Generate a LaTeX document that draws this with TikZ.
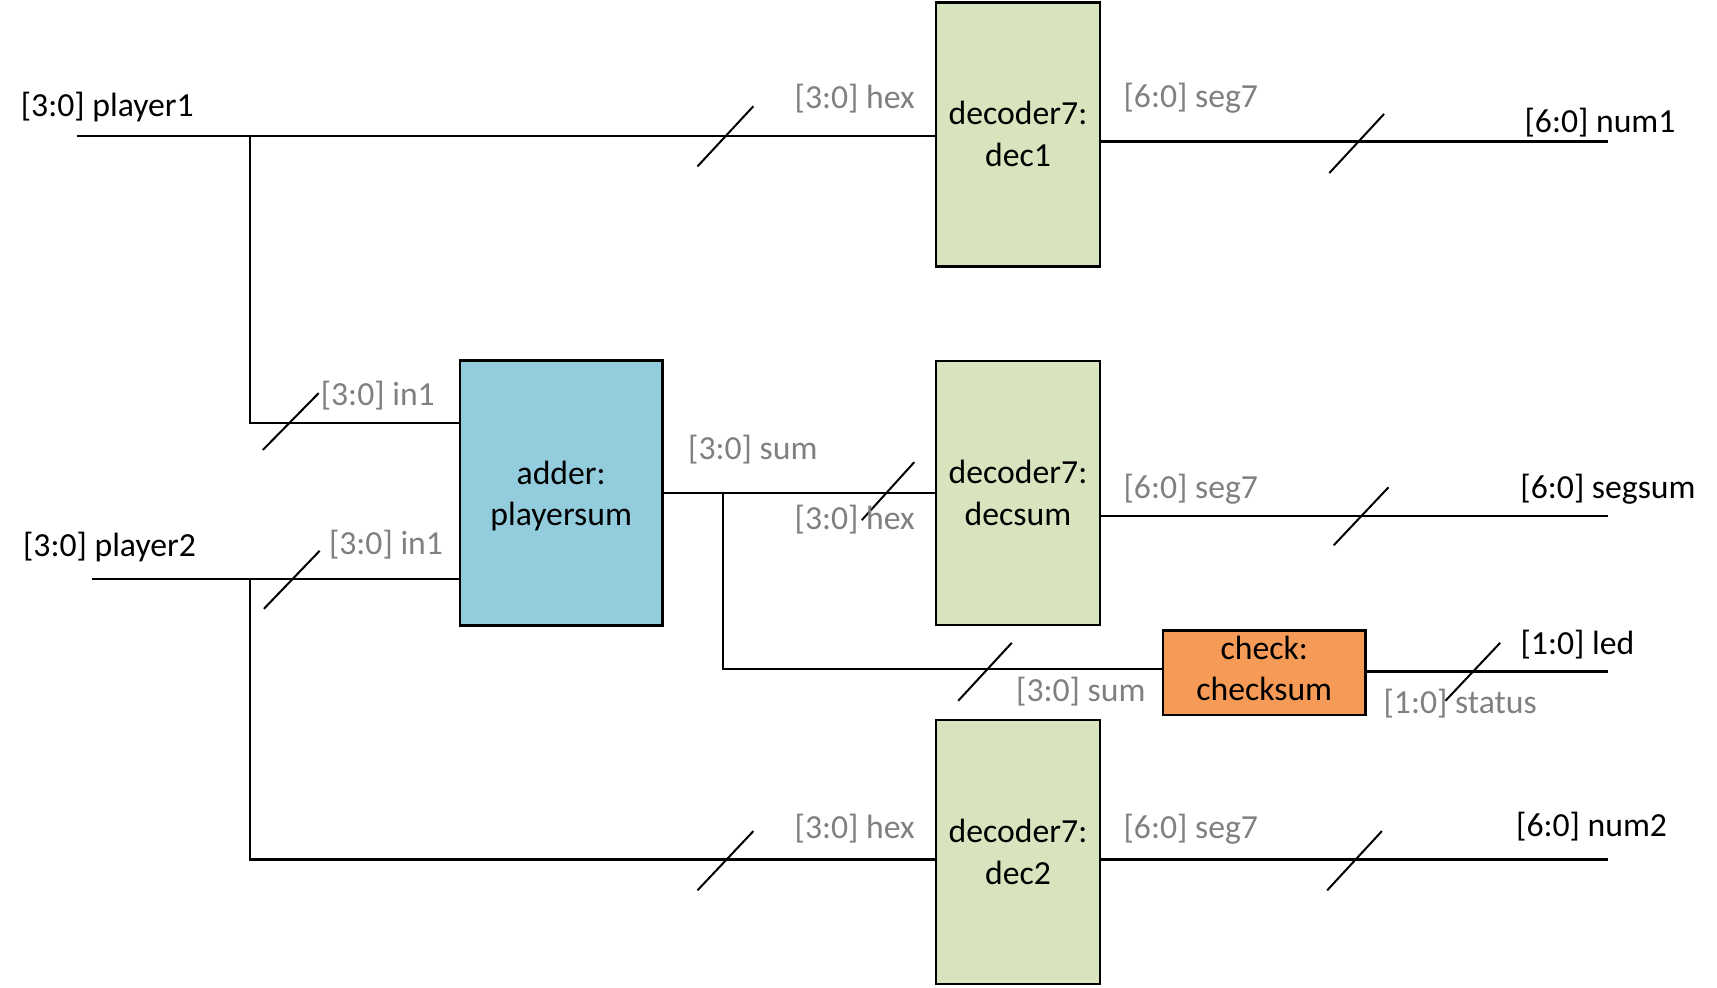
\documentclass[tikz,border=0pt]{standalone}
\usepackage{fontspec}
\setmainfont{Carlito}
\definecolor{decgreen}{HTML}{D7E4BD}
\definecolor{addblue}{HTML}{93CDDD}
\definecolor{chkorange}{HTML}{F59B57}
\definecolor{lblgray}{HTML}{808080}
\tikzset{
  wire/.style={line width=2.4pt, line cap=butt},
  busmark/.style={line width=2pt},
  block/.style={draw=black, line width=2.6pt, inner sep=0pt},
  boxtext/.style={align=center, inner sep=0pt, font=\fontsize{33.7}{41.6}\selectfont},
  decbox/.style={block, fill=decgreen, minimum width=164pt, minimum height=264pt},
  portlbl/.style={inner sep=0pt, text=lblgray, font=\fontsize{33.7}{40}\selectfont},
  siglbl/.style={inner sep=0pt, text=black, font=\fontsize{33.7}{40}\selectfont}
}
\begin{document}
\begin{tikzpicture}[x=1pt,y=-1pt]
\useasboundingbox (0,0) rectangle (1717,988);

% blocks
\node[decbox] (dec1) at (1018,134.2) {};
\node[decbox] (decsum) at (1018,492.8) {};
\node[decbox] (dec2) at (1018,851.9) {};
\node[block, fill=addblue, minimum width=202.6pt, minimum height=265pt] (adder) at (561.2,492.8) {};
\node[block, fill=chkorange, minimum width=202.6pt, minimum height=84.4pt] (check) at (1264.2,672.9) {};

\node[boxtext] (t1) at (dec1.center) {decoder7:\\dec1};
\node[boxtext] (ts) at (decsum.center) {decoder7:\\decsum};
\node[boxtext] (t2) at (dec2.center) {decoder7:\\dec2};
\node[boxtext] (ta) at ([yshift=-3.3pt]adder.center) {adder:\\playersum};
\node[boxtext] (tc) at ([yshift=4.4pt]check.center) {check:\\checksum};

% free ends and junctions
\coordinate (p1) at (76.7,135.8);
\coordinate (p1j) at (249.7,135.8);
\coordinate (p1c) at (249.7,422.7);
\coordinate (p2) at (92,578.8);
\coordinate (p2j) at (249.7,578.8);
\coordinate (p2c) at (249.7,859.6);
\coordinate (sj) at (722.7,492.8);
\coordinate (sc) at (722.7,669.1);
\coordinate (n1) at (1607.5,141.3);
\coordinate (ns) at (1607.5,515.8);
\coordinate (nl) at (1607.5,671.3);
\coordinate (n2) at (1607.5,859.6);

% connectors
\draw[wire] (p1) -- (p1 -| dec1.west);
\draw[wire] (p1j) -- (p1c) -- (p1c -| adder.west);
\draw[wire] (p2) -- (p2 -| adder.west);
\draw[wire] (p2j) -- (p2c) -- (p2c -| dec2.west);
\draw[wire] (adder.east |- sj) -- (sj -| decsum.west);
\draw[wire] (sj) -- (sc) -- (sc -| check.west);
\draw[wire] (n1 -| dec1.east) -- (n1);
\draw[wire] (ns -| decsum.east) -- (ns);
\draw[wire] (nl -| check.east) -- (nl);
\draw[wire] (n2 -| dec2.east) -- (n2);

% bus width marks
\draw[busmark] (697.5,166.4) -- (753.4,106.2);
\draw[busmark] (1329.4,173) -- (1384.1,113.9);
\draw[busmark] (262.8,450) -- (318.7,393.1);
\draw[busmark] (263.9,608.8) -- (319.7,550.8);
\draw[busmark] (861.8,520.1) -- (914.3,462.1);
\draw[busmark] (1333.7,545.3) -- (1388.5,487.3);
\draw[busmark] (958.2,700.8) -- (1011.8,642.8);
\draw[busmark] (1445.4,700.8) -- (1500.2,642.8);
\draw[busmark] (697.5,890.3) -- (753.4,831.1);
\draw[busmark] (1327.2,890.3) -- (1381.9,831.1);

% signal labels
\node[siglbl] (lp1) at (107.3,107.3) {[3:0] player1};
\node[siglbl] (lp2) at (109.5,547.5) {[3:0] player2};
\node[siglbl] (ln1) at (1600,122.6) {[6:0] num1};
\node[siglbl] (lns) at (1608,489.5) {[6:0] segsum};
\node[siglbl] (lnl) at (1577.4,645) {[1:0] led};
\node[siglbl] (ln2) at (1591.6,826.8) {[6:0] num2};

% port labels
\node[portlbl] (h1) at (854.7,98.6) {[3:0] hex};
\node[portlbl] (s1) at (1190.8,98.6) {[6:0] seg7};
\node[portlbl] (i1) at (377.8,395.3) {[3:0] in1};
\node[portlbl] (i2) at (386,544.2) {[3:0] in1};
\node[portlbl] (so) at (752.8,450) {[3:0] sum};
\node[portlbl] (hs) at (854.7,520.1) {[3:0] hex};
\node[portlbl] (ss) at (1190.8,489.5) {[6:0] seg7};
\node[portlbl] (cs) at (1080.8,692) {[3:0] sum};
\node[portlbl] (st) at (1460.2,704.1) {[1:0] status};
\node[portlbl] (h2) at (854.7,829) {[3:0] hex};
\node[portlbl] (s2) at (1190.8,829) {[6:0] seg7};
\end{tikzpicture}
\end{document}
